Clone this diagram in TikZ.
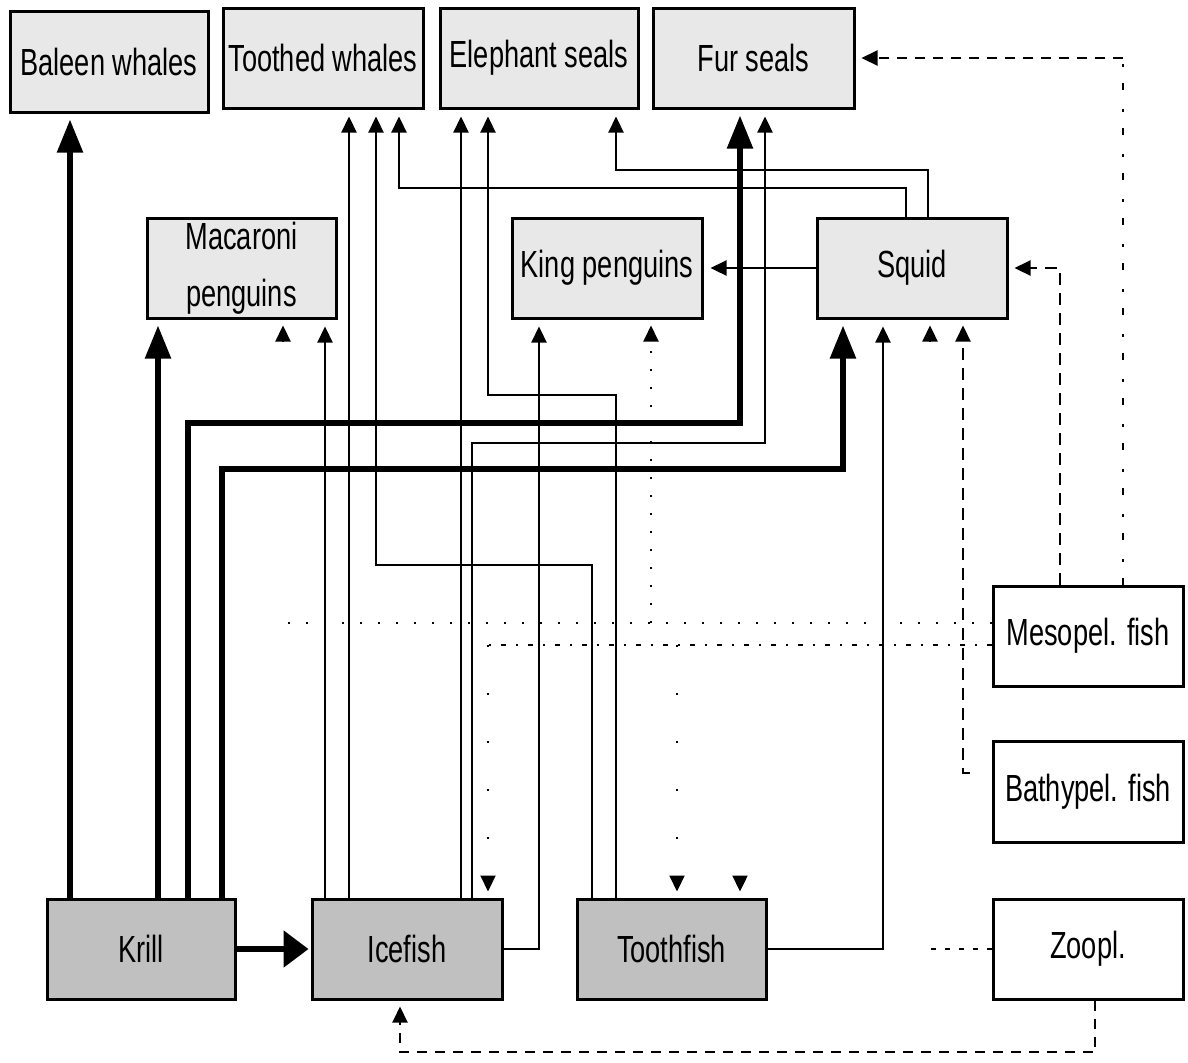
\documentclass[tikz,border=0pt]{standalone}
\usepackage{fontspec}
\setmainfont{Liberation Sans}[FakeStretch=0.72]
\usetikzlibrary{arrows.meta}
\definecolor{lightbox}{RGB}{232,232,232}
\definecolor{darkbox}{RGB}{192,192,192}
\begin{document}
\begin{tikzpicture}[x=0.5pt,y=-0.5pt,
  box/.style={draw=black, line width=1.5pt, inner sep=0pt, align=center, font=\fontsize{18.9pt}{28.5pt}\selectfont},
  lt/.style={box, fill=lightbox},
  dk/.style={box, fill=darkbox},
  wt/.style={box, fill=white},
  thinline/.style={line width=1.15pt},
  thinarr/.style={thinline, -{Triangle[length=8pt,width=7.5pt]}, shorten >=3.5pt},
  bigarr/.style={line width=2.7pt, -{Triangle[length=16.5pt,width=12.5pt]}, shorten >=3pt},
  dashA/.style={line width=1.1pt, dash pattern=on 6pt off 4pt},
  dashB/.style={line width=1.1pt, dash pattern=on 5pt off 4pt},
  dashC/.style={line width=1.1pt, dash pattern=on 2.5pt off 4.5pt},
  dashdotV/.style={line width=1.1pt, dash pattern=on 3.5pt off 8pt on 1.5pt off 9.5pt},
  dotrow/.style={line width=1pt, dash pattern=on 1pt off 8pt},
  dashdotrow/.style={line width=1.1pt, dash pattern=on 2.5pt off 5pt on 1pt off 5pt},
  sparse/.style={line width=1pt, dash pattern=on 1pt off 23pt},
  tip/.style={-{Triangle[length=8pt,width=7.5pt]}, shorten >=3pt},
]
\useasboundingbox (0,0) rectangle (1188,1062);

% nodes
\node[lt, minimum width=99pt, minimum height=50.5pt] (baleen) at (109,61.5) {Baleen whales};
\node[lt, minimum width=100pt, minimum height=50pt] (toothed) at (323,58) {Toothed whales};
\node[lt, minimum width=99pt, minimum height=50pt] (eleph) at (539,58) {Elephant seals};
\node[lt, minimum width=100.5pt, minimum height=50pt] (fur) at (753.5,58) {Fur seals};
\node[lt, minimum width=94.5pt, minimum height=50pt] (mac) at (241.5,268) {Macaroni\\penguins};
\node[lt, minimum width=95pt, minimum height=50pt] (king) at (607,268) {King penguins};
\node[lt, minimum width=95pt, minimum height=50pt] (squid) at (912,268) {Squid};
\node[wt, minimum width=95pt, minimum height=50pt] (mes) at (1088,636) {Mesopel. fish};
\node[wt, minimum width=95pt, minimum height=50.5pt] (bathy) at (1088,791.5) {Bathypel. fish};
\node[wt, minimum width=95pt, minimum height=50pt] (zoopl) at (1088,949) {Zoopl.};
\node[dk, minimum width=94pt, minimum height=50pt] (krill) at (141,949) {Krill};
\node[dk, minimum width=95pt, minimum height=50pt] (ice) at (407,949) {Icefish};
\node[dk, minimum width=94.5pt, minimum height=50pt] (tooth) at (671.5,949) {Toothfish};

% helper coordinates
\coordinate (a70) at (70,0);
\coordinate (a158) at (158,0);
\coordinate (a188) at (188,0);
\coordinate (a222) at (222,0);
\coordinate (a325) at (325,0);
\coordinate (a349) at (349,0);
\coordinate (a461) at (461,0);
\coordinate (a472) at (472,0);
\coordinate (a539) at (539,0);
\coordinate (a592) at (592,0);
\coordinate (a616) at (616,0);
\coordinate (a883) at (883,0);
\coordinate (a906) at (906,0);
\coordinate (a928) at (928,0);
\coordinate (a1060) at (1060,0);
\coordinate (a1123) at (1123,0);
\coordinate (a1095) at (1095,0);
\coordinate (a963) at (963,0);
\coordinate (b1) at (740,423);
\coordinate (b2) at (843,469);
\coordinate (b3) at (765,443);
\coordinate (b5) at (376,565);
\coordinate (b6) at (488,395);
\coordinate (b7) at (399,188);
\coordinate (b8) at (616,170);
\coordinate (c1) at (fur.east -| a1123);
\coordinate (c2) at (970,773);
\coordinate (c3) at (400,1052);
\coordinate (c4) at (927,949);
\coordinate (r1) at (283,623);
\coordinate (r2) at (651,623);
\coordinate (r3) at (488,645);
\coordinate (r4) at (677,645);
\coordinate (s1) at (283,341);
\coordinate (s2) at (930,341);
\coordinate (s3) at (740,876);

% thick krill connectors
\draw[bigarr] (krill.north -| a70) -- (baleen.south -| a70);
\draw[bigarr] (krill.north -| a158) -- (mac.south -| a158);
\draw[bigarr] (krill.north -| a188) |- (b1) -- (b1 |- fur.south);
\draw[bigarr] (krill.north -| a222) |- (b2) -- (b2 |- squid.south);
\draw[line width=2.7pt, -{Triangle[length=12.5pt,width=18pt]}, shorten >=1pt] (krill.east) -- (ice.west);

% icefish connectors
\draw[thinarr] (ice.north -| a325) -- (mac.south -| a325);
\draw[thinarr] (ice.north -| a349) -- (toothed.south -| a349);
\draw[thinarr] (ice.north -| a461) -- (eleph.south -| a461);
\draw[thinarr] (ice.north -| a472) |- (b3) -- (b3 |- fur.south);
\draw[thinarr] (ice.east) -| (a539 |- king.south);

% toothfish connectors
\draw[thinarr] (tooth.north -| a592) |- (b5) -- (b5 |- toothed.south);
\draw[thinarr] (tooth.north -| a616) |- (b6) -- (b6 |- eleph.south);
\draw[thinarr] (tooth.east) -| (a883 |- squid.south);

% squid connectors
\draw[thinarr] (squid.north -| a906) |- (b7) -- (b7 |- toothed.south);
\draw[thinarr] (squid.north -| a928) |- (b8) -- (b8 |- eleph.south);
\draw[thinarr] (squid.west) -- (king.east);

% dashed connectors
\draw[dashA, tip] (mes.north -| a1060) |- (squid.east);
\draw[dashdotV] (mes.north -| a1123) -- (c1);
\draw[dashB, tip] (c1) -- (fur.east);
\draw[dashA, tip] (c2) -| (a963 |- squid.south);
\draw[dashB, tip] (zoopl.south -| a1095) |- (c3) -- (c3 |- ice.south);
\draw[dashC] (zoopl.west) -- (c4);

% dotted rows from mesopelagic fish
\draw[dotrow] (mes.west |- r1) -- (r1);
\draw[dotrow, tip] (r2) -- (r2 |- king.south);
\draw[dashdotrow] (mes.west |- r3) -- (r3);
\draw[sparse, tip] (r3) -- (r3 |- ice.north);
\draw[sparse, tip] (r4) -- (r4 |- tooth.north);

% arrow stubs
\draw[thinline, tip] (s1) -- (s1 |- mac.south);
\draw[thinline, tip] (s2) -- (s2 |- squid.south);
\draw[thinline, tip] (s3) -- (s3 |- tooth.north);
\end{tikzpicture}
\end{document}
